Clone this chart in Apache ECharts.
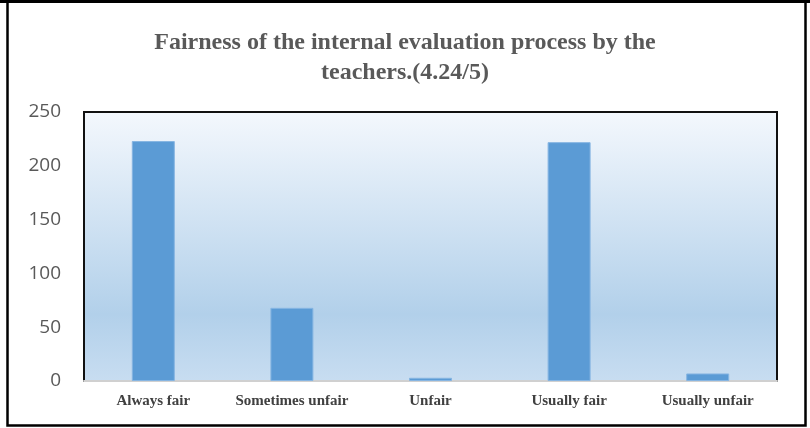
<!DOCTYPE html>
<html><head><meta charset="utf-8">
<script src="https://cdn.jsdelivr.net/npm/echarts@6/dist/echarts.min.js"></script>
<style>html,body{margin:0;padding:0;background:#fff}#c{width:810px;height:428px}</style>
</head><body><div id="c"></div>
<script>
const categories = ['Always fair', 'Sometimes unfair', 'Unfair', 'Usually fair', 'Usually unfair'];
const values = [223, 68, 3, 222, 7];
const yTicks = [0, 50, 100, 150, 200, 250];
const titleText = 'Fairness of the internal evaluation process by the\nteachers.(4.24/5)';

const chart = echarts.init(document.getElementById('c'), null, {renderer: 'canvas'});
chart.setOption({
  animation: false,
  backgroundColor: '#ffffff',
  title: {
    text: titleText,
    left: 'center',
    top: 23,
    textStyle: {fontFamily: 'Liberation Serif', fontWeight: 'bold', fontSize: 24, color: '#595959', lineHeight: 30}
  },
  graphic: [
    {type: 'rect', shape: {x: 7.5, y: 1.5, width: 798, height: 424}, style: {fill: 'none', stroke: '#000', lineWidth: 2.5}, z: 100},
    {type: 'line', shape: {x1: 0, y1: 1.5, x2: 810, y2: 1.5}, style: {stroke: '#000', lineWidth: 3}, z: 100}
  ],
  grid: {
    left: 84, right: 33, top: 112, bottom: 47,
    show: true,
    borderColor: '#111', borderWidth: 2,
    backgroundColor: new echarts.graphic.LinearGradient(0, 0, 0, 1, [
      {offset: 0, color: '#f4f8fd'},
      {offset: 0.75, color: '#b2d0ea'},
      {offset: 1, color: '#c8ddf1'}
    ])
  },
  xAxis: {
    type: 'category',
    data: categories,
    axisLine: {show: true, lineStyle: {color: '#d0d0d0', width: 2}},
    axisTick: {show: false},
    axisLabel: {interval: 0, hideOverlap: false, margin: 13, fontFamily: 'Liberation Serif', fontWeight: 'bold', fontSize: 15, color: '#404040'}
  },
  yAxis: {
    type: 'value',
    min: yTicks[0], max: yTicks[yTicks.length - 1], interval: 50,
    axisLine: {show: false},
    axisTick: {show: false},
    splitLine: {show: false},
    axisLabel: {margin: 23, fontFamily: 'Open Sans', fontSize: 19, color: '#595959'}
  },
  series: [{
    type: 'bar',
    data: values,
    barWidth: 43,
    itemStyle: {color: '#5b9bd5', borderColor: '#86b5e2', borderWidth: 1}
  }]
});
</script></body></html>
